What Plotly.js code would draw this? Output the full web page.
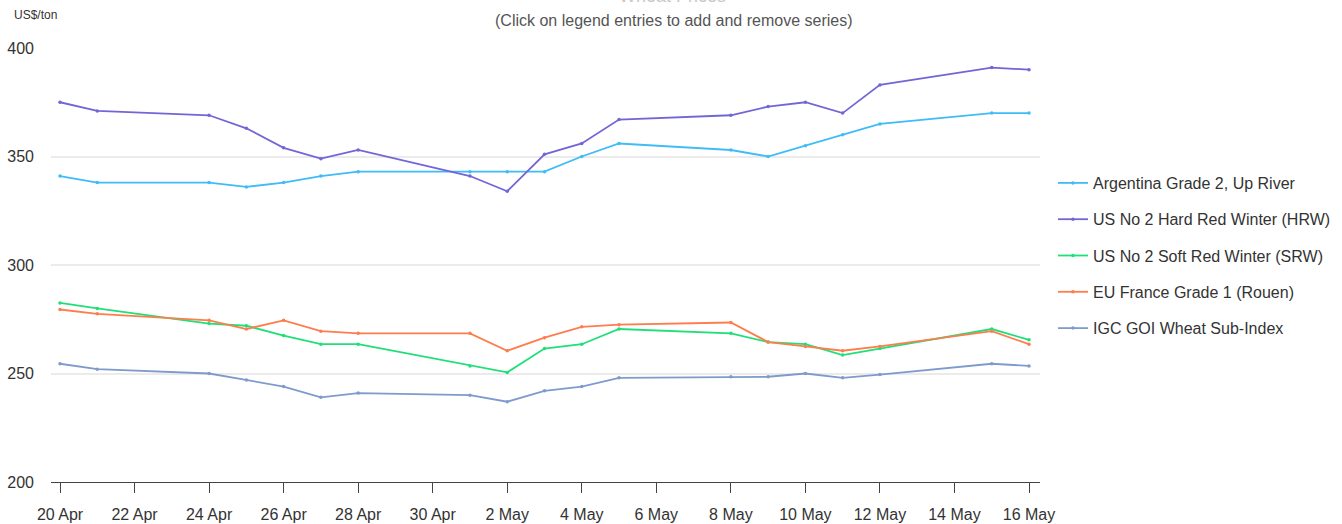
<!DOCTYPE html>
<html>
<head>
<meta charset="utf-8">
<script src="https://cdn.plot.ly/plotly-3.0.1.min.js"></script>
<style>
  html, body { margin: 0; padding: 0; background: #fff; }
  #chart { width: 1342px; height: 524px; }
</style>
</head>
<body>
<div id="chart"></div>
<script>
// Dates of the price quotes
const dates = [
    '2018-04-20', '2018-04-21', '2018-04-24', '2018-04-25', '2018-04-26', '2018-04-27', '2018-04-28',
    '2018-05-01', '2018-05-02', '2018-05-03', '2018-05-04', '2018-05-05',
    '2018-05-08', '2018-05-09', '2018-05-10', '2018-05-11', '2018-05-12',
    '2018-05-15', '2018-05-16'
];

// US$/ton
const argentina = [341, 338, 338, 336, 338, 341, 343, 343, 343, 343, 350, 356, 353, 350, 355, 360, 365, 370, 370];
const usHrw = [375, 371, 369, 363, 354, 349, 353, 341, 334, 351, 356, 367, 369, 373, 375, 370, 383, 391, 390];
const usSrw = [282.5, 280, 273, 272, 267.5, 263.5, 263.5, 253.5, 250.5, 261.5, 263.5, 270.5, 268.5, 264.5, 263.5, 258.5, 261.5, 270.5, 265.5];
const euFrance = [279.5, 277.5, 274.5, 270.5, 274.5, 269.5, 268.5, 268.5, 260.5, 266.5, 271.5, 272.5, 273.5, 264.5, 262.5, 260.5, 262.5, 269.5, 263.5];
const igcGoi = [254.5, 252, 250, 247, 244, 239, 241, 240, 237, 242, 244, 248, 248.5, 248.5, 250, 248, 249.5, 254.5, 253.5];

const seriesNames = [
    'Argentina Grade 2, Up River',
    'US No 2 Hard Red Winter (HRW)',
    'US No 2 Soft Red Winter (SRW)',
    'EU France Grade 1 (Rouen)',
    'IGC GOI Wheat Sub-Index'
];
const seriesValues = [argentina, usHrw, usSrw, euFrance, igcGoi];
const seriesColors = ['#3fbcf7', '#7266d6', '#1fe078', '#ff7c4c', '#7e9bcc'];

const FONT = 'Liberation Sans, Arial, sans-serif';

const traces = seriesValues.map((vals, i) => ({
    x: dates,
    y: vals,
    name: seriesNames[i],
    legendgroup: 'g' + i,
    type: 'scatter',
    mode: 'lines+markers',
    line: { color: seriesColors[i], width: 1.8 },
    marker: { color: seriesColors[i], size: 3.5 }
}));

const layout = {
    width: 1342,
    height: 524,
    margin: { l: 51, r: 302, t: 48, b: 42, autoexpand: false },
    paper_bgcolor: '#fff',
    plot_bgcolor: '#fff',
    font: { family: FONT, size: 16, color: '#333' },
    showlegend: true,
    legend: {
        xref: 'container',
        yref: 'container',
        x: 1053 / 1342,
        xanchor: 'left',
        y: 1 - 166 / 524,
        yanchor: 'top',
        itemwidth: 30,
        tracegroupgap: 12.5,
        font: { family: FONT, size: 16, color: '#333' }
    },
    xaxis: {
        type: 'date',
        range: ['2018-04-19 18:12', '2018-05-16 07:05'],
        tick0: '2018-04-20',
        dtick: 2 * 86400000,
        tickformat: '%-d %b',
        ticks: 'outside',
        ticklen: 10,
        tickcolor: '#444',
        ticklabelstandoff: 8,
        showline: true,
        linecolor: '#444',
        linewidth: 1,
        showgrid: false,
        zeroline: false,
        tickfont: { family: FONT, size: 16, color: '#333' }
    },
    yaxis: {
        range: [200, 400],
        dtick: 50,
        showgrid: true,
        gridcolor: '#ebebeb',
        gridwidth: 1.5,
        zeroline: false,
        showline: false,
        ticks: '',
        ticklabelstandoff: 16,
        tickfont: { family: FONT, size: 16, color: '#333' }
    },
    annotations: [
        {
            // chart title, mostly above the visible area as in the source
            text: 'Wheat Prices',
            xref: 'paper', yref: 'paper',
            x: (672 - 51) / 989, y: 1 + (48 - 8) / 434,
            xanchor: 'center', yanchor: 'bottom',
            showarrow: false,
            font: { family: FONT, size: 18, color: '#c8c8c8' }
        },
        {
            text: '(Click on legend entries to add and remove series)',
            xref: 'paper', yref: 'paper',
            x: (674 - 51) / 989, y: 1 + (48 - 20) / 434,
            xanchor: 'center', yanchor: 'middle',
            showarrow: false,
            font: { family: FONT, size: 16, color: '#555' }
        },
        {
            text: 'US$/ton',
            xref: 'paper', yref: 'paper',
            x: (12 - 51) / 989, y: 1 + (48 - 15) / 434,
            xanchor: 'left', yanchor: 'middle',
            showarrow: false,
            font: { family: FONT, size: 12, color: '#333' }
        }
    ]
};

Plotly.newPlot('chart', traces, layout, { displayModeBar: false });
</script>
</body>
</html>
